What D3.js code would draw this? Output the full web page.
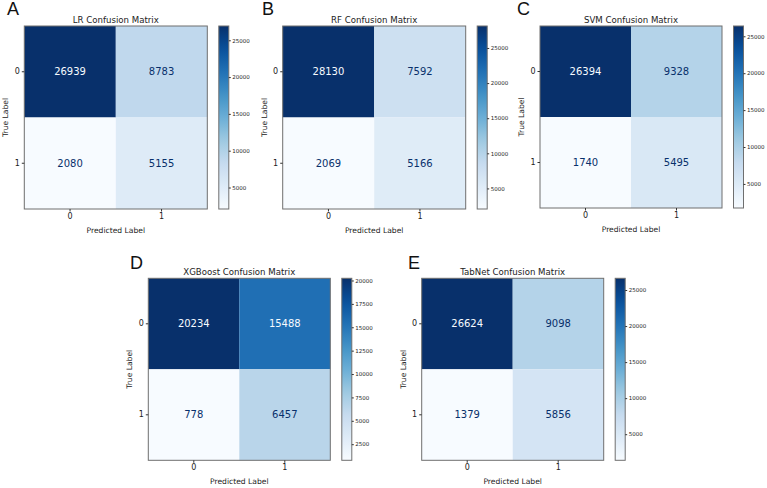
<!DOCTYPE html>
<html>
<head>
<meta charset="utf-8">
<script src="https://cdn.jsdelivr.net/npm/d3@7"></script>
<style>
  body { margin: 0; background: #fff; }
  svg { display: block; }
</style>
</head>
<body>
<script>
// Confusion matrices: [[TN, FP], [FN, TP]]
const models = ["LR", "RF", "SVM", "XGBoost", "TabNet"];
const letters = ["A", "B", "C", "D", "E"];
const classLabels = ["0", "1"];
const lrValues = [[26939, 8783], [2080, 5155]];
const rfValues = [[28130, 7592], [2069, 5166]];
const svmValues = [[26394, 9328], [1740, 5495]];
const xgbValues = [[20234, 15488], [778, 6457]];
const tabnetValues = [[26624, 9098], [1379, 5856]];
const allValues = [lrValues, rfValues, svmValues, xgbValues, tabnetValues];
const colorbarSteps = [5000, 5000, 5000, 2500, 5000];

// matplotlib "Blues" stops
const bluesStops = ["#f7fbff", "#deebf7", "#c6dbef", "#9ecae1", "#6baed6",
                    "#4292c6", "#2171b5", "#08519c", "#08306b"];
const blues = d3.scaleLinear()
    .domain(d3.range(bluesStops.length).map(i => i / (bluesStops.length - 1)))
    .range(bluesStops)
    .interpolate(d3.interpolateRgb);

// Layout of each panel (matrix top-left corner, size, panel letter)
const layout = [
    { left: 24.3, top: 26, size: 183, letterX: 7, letterY: 15 },
    { left: 282.7, top: 26, size: 183, letterX: 262, letterY: 15 },
    { left: 540, top: 26, size: 182, letterX: 517, letterY: 15 },
    { left: 148.3, top: 278.3, size: 182, letterX: 130, letterY: 269 },
    { left: 421.7, top: 278.3, size: 182, letterX: 408, letterY: 269 }
];

const width = 767;
const height = 488;
const font = "'DejaVu Sans', sans-serif";
const spineColor = "#6f6f6f";

const svg = d3.select("body")
    .append("svg")
    .attr("width", width)
    .attr("height", height);

const defs = svg.append("defs");

models.forEach((model, i) => {
    const values = allValues[i];
    const L = layout[i];
    const flat = values.flat();
    const [vmin, vmax] = d3.extent(flat);
    const thresh = (vmin + vmax) / 2;

    const x = d3.scaleBand().domain(classLabels).range([L.left, L.left + L.size]);
    const y = d3.scaleBand().domain(classLabels).range([L.top, L.top + L.size]);
    const toT = d3.scaleLinear().domain([vmin, vmax]).range([0, 1]).clamp(true);
    const color = v => blues(toT(v));

    const g = svg.append("g");

    // cells
    const cells = [];
    values.forEach((row, r) => row.forEach((v, c) => cells.push({ r, c, v })));

    g.selectAll("rect.cell")
        .data(cells)
        .enter()
        .append("rect")
        .attr("class", "cell")
        .attr("x", d => x(classLabels[d.c]))
        .attr("y", d => y(classLabels[d.r]))
        .attr("width", x.bandwidth())
        .attr("height", y.bandwidth())
        .attr("fill", d => color(d.v));

    g.selectAll("text.val")
        .data(cells)
        .enter()
        .append("text")
        .attr("class", "val")
        .attr("x", d => x(classLabels[d.c]) + x.bandwidth() / 2)
        .attr("y", d => y(classLabels[d.r]) + y.bandwidth() / 2)
        .attr("dy", "0.36em")
        .attr("text-anchor", "middle")
        .style("font-family", font)
        .style("font-size", "10px")
        .attr("fill", d => d.v > thresh ? blues(0) : blues(1))
        .text(d => d.v);

    // frame
    g.append("rect")
        .attr("x", L.left)
        .attr("y", L.top)
        .attr("width", L.size)
        .attr("height", L.size)
        .attr("fill", "none")
        .attr("stroke", spineColor)
        .attr("stroke-width", 1);

    // axes
    const xAxis = g.append("g")
        .attr("transform", `translate(0, ${L.top + L.size})`)
        .call(d3.axisBottom(x).tickSize(2.5).tickPadding(2));
    const yAxis = g.append("g")
        .attr("transform", `translate(${L.left}, 0)`)
        .call(d3.axisLeft(y).tickSize(2.5).tickPadding(2));
    [xAxis, yAxis].forEach(ax => {
        ax.select(".domain").remove();
        ax.selectAll("line").attr("stroke", "#333");
        ax.selectAll("text")
            .style("font-family", font)
            .style("font-size", "8px")
            .attr("fill", "#222");
    });

    // title and labels
    g.append("text")
        .attr("x", L.left + L.size / 2)
        .attr("y", L.top - 3.5)
        .attr("text-anchor", "middle")
        .style("font-family", font)
        .style("font-size", "8.6px")
        .attr("fill", "#222")
        .text(`${model} Confusion Matrix`);

    g.append("text")
        .attr("x", L.left + L.size / 2)
        .attr("y", L.top + L.size + 23.5)
        .attr("text-anchor", "middle")
        .style("font-family", font)
        .style("font-size", "7.6px")
        .attr("fill", "#222")
        .text("Predicted Label");

    g.append("text")
        .attr("transform", `translate(${L.left - 16}, ${L.top + L.size / 2}) rotate(-90)`)
        .attr("text-anchor", "middle")
        .style("font-family", font)
        .style("font-size", "7.6px")
        .attr("fill", "#222")
        .text("True Label");

    // panel letter
    g.append("text")
        .attr("x", L.letterX)
        .attr("y", L.letterY)
        .style("font-family", "'Liberation Sans', Arial, sans-serif")
        .style("font-size", "18px")
        .attr("fill", "#111")
        .text(letters[i]);

    // colorbar
    const cbX = L.left + L.size + 11.5;
    const cbW = 10;
    const cbY = d3.scaleLinear().domain([vmin, vmax]).range([L.top + L.size, L.top]);
    const gradId = `grad${i}`;
    const grad = defs.append("linearGradient")
        .attr("id", gradId)
        .attr("x1", 0).attr("y1", 1)
        .attr("x2", 0).attr("y2", 0);
    d3.range(0, 1.0001, 0.05).forEach(t => {
        grad.append("stop")
            .attr("offset", t)
            .attr("stop-color", blues(t));
    });
    g.append("rect")
        .attr("x", cbX)
        .attr("y", L.top)
        .attr("width", cbW)
        .attr("height", L.size)
        .attr("fill", `url(#${gradId})`)
        .attr("stroke", spineColor)
        .attr("stroke-width", 1);

    const step = colorbarSteps[i];
    const cbTicks = d3.range(Math.ceil(vmin / step) * step, vmax + 1, step);
    const cbAxis = g.append("g")
        .attr("transform", `translate(${cbX + cbW}, 0)`)
        .call(d3.axisRight(cbY).tickValues(cbTicks).tickFormat(d3.format("d")).tickSize(2).tickPadding(1.5));
    cbAxis.select(".domain").remove();
    cbAxis.selectAll("line").attr("stroke", "#333");
    cbAxis.selectAll("text")
        .style("font-family", font)
        .style("font-size", "5.5px")
        .attr("fill", "#222");
});
</script>
</body>
</html>
